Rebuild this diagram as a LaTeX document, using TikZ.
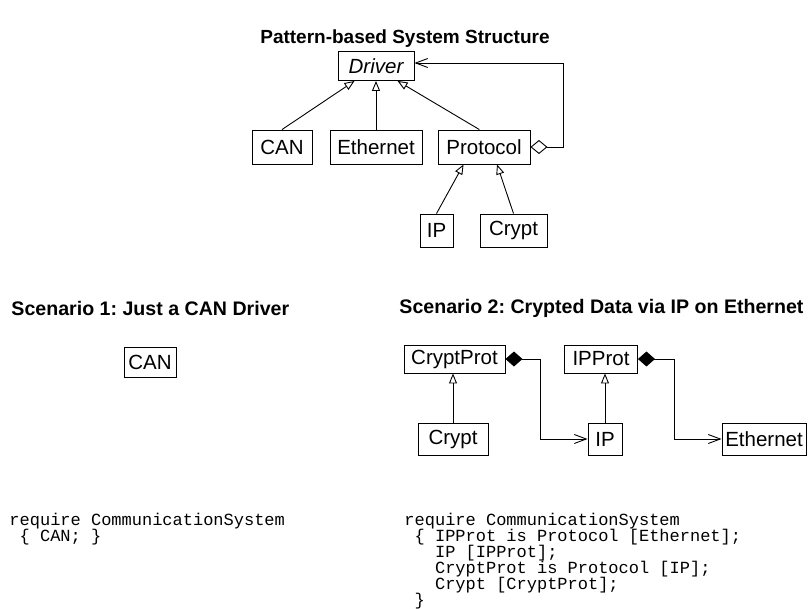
\documentclass[tikz,border=0pt]{standalone}
\usepackage{fontspec}
\setmainfont{Liberation Sans}
\setmonofont{Liberation Mono}
\usetikzlibrary{arrows.meta,calc}
\begin{document}
\frenchspacing
\begin{tikzpicture}[x=1pt,y=-1pt,
  every path/.style={line width=0.9pt},
  cls/.style={draw, line width=0.9pt, inner sep=0pt,
    font=\fontsize{20.5}{23}\selectfont},
  heading/.style={inner sep=0pt, font=\fontsize{19.6}{24}\selectfont\bfseries},
  codeline/.style={inner sep=0pt, anchor=base west,
    font=\fontsize{17}{16}\selectfont\ttfamily},
  inh/.style={-{Triangle[open,length=10pt,width=8pt]}},
  agg/.style={{Diamond[open,length=17pt,width=14pt]}-{Straight Barb[length=12pt,width=9pt]}},
  comp/.style={{Diamond[length=17pt,width=15pt]}-{Straight Barb[length=12pt,width=9pt]}}]
\useasboundingbox (0,0) rectangle (810,609);

% ---- pattern-based structure ----
\node[heading, font=\fontsize{19}{23}\selectfont\bfseries] (title) at (405,39) {Pattern-based System Structure};

\node[cls, minimum width=76pt, minimum height=29pt] (driver) at (376,66) {\itshape Driver};
\node[cls, minimum width=60pt, minimum height=34pt] (can) at (282,147) {CAN};
\node[cls, minimum width=92pt, minimum height=34pt] (eth) at (376,147) {Ethernet};
\node[cls, minimum width=92pt, minimum height=34pt] (proto) at (484,147) {Protocol};
\node[cls, minimum width=33pt, minimum height=33pt] (ip) at (436.5,230.5) {IP};
\node[cls, minimum width=67pt, minimum height=33pt] (crypt) at (513.5,230.5) {Crypt};

\draw[inh] (can.north) -- ($(driver.south west)!0.22!(driver.south east)$);
\draw[inh] (eth.north) -- (driver.south);
\draw[inh] ($(proto.north west)!0.45!(proto.north east)$) -- ($(driver.south west)!0.78!(driver.south east)$);
\draw[inh] (ip.north) -- ($(proto.south west)!0.28!(proto.south east)$);
\draw[inh] (crypt.north) -- ($(proto.south west)!0.64!(proto.south east)$);
\draw[agg] (proto.east) -- ++(33,0) |- ($(driver.east)+(0,-3)$);

% ---- scenario 1 ----
\node[heading, anchor=west] (s1) at (11,308) {Scenario 1: Just a CAN Driver};
\node[cls, minimum width=52pt, minimum height=30pt] (can1) at (150,362) {CAN};

\node[codeline] (l1a) at (9,525) {require CommunicationSystem};
\node[codeline] (l1b) at (9,541) {\ \{ CAN; \}};

% ---- scenario 2 ----
\node[heading, anchor=west] (s2) at (399,308) {Scenario 2: Crypted Data via IP on Ethernet};
\node[cls, minimum width=101pt, minimum height=28pt] (cprot) at (454.5,359) {CryptProt};
\node[cls, minimum width=73pt, minimum height=28pt] (iprot) at (601,359) {IPProt};
\node[cls, minimum width=70pt, minimum height=32pt] (crypt2) at (453,439) {Crypt};
\node[cls, minimum width=34pt, minimum height=32pt] (ip2) at (605,439) {IP};
\node[cls, minimum width=84pt, minimum height=32pt] (eth2) at (764,439) {Ethernet};

\draw[inh] (crypt2.north) -- (crypt2.north |- cprot.south);
\draw[inh] (ip2.north) -- (ip2.north |- iprot.south);
\draw[comp] (cprot.east) -- ++(35,0) |- (ip2.west);
\draw[comp] (iprot.east) -- ++(36,0) |- (eth2.west);

\node[codeline] (l2a) at (404,525) {require CommunicationSystem};
\node[codeline] (l2b) at (404,541) {\ \{ IPProt is Protocol [Ethernet];};
\node[codeline] (l2c) at (404,557) {\ \ \ IP [IPProt];};
\node[codeline] (l2d) at (404,573) {\ \ \ CryptProt is Protocol [IP];};
\node[codeline] (l2e) at (404,589) {\ \ \ Crypt [CryptProt];};
\node[codeline] (l2f) at (404,605) {\ \}};
\end{tikzpicture}
\end{document}
